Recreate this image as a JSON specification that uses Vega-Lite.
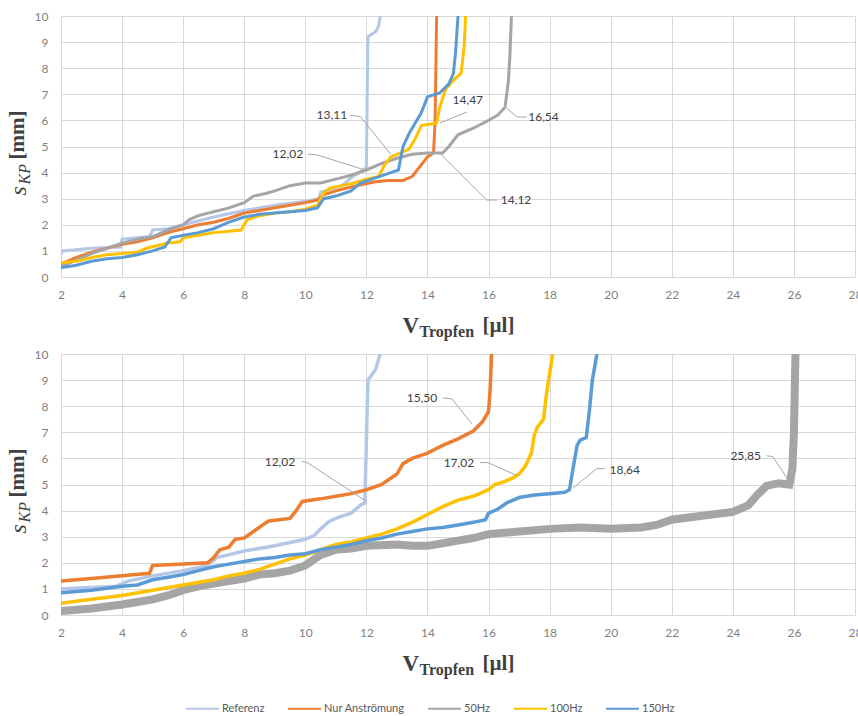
{
  "$schema": "https://vega.github.io/schema/vega-lite/v6.json",
  "background": "white",
  "padding": {"left": 6, "top": 10, "right": 0, "bottom": 0},
  "config": {"view": {"stroke": null}, "font": "Lato", "text": {"font": "Lato"}},
  "spacing": 9,
  "datasets": {
    "top": [
      {"series":"Referenz","v":2,"s":0.85},{"series":"Referenz","v":2.05,"s":1.0},{"series":"Referenz","v":3,"s":1.1},{"series":"Referenz","v":3.95,"s":1.15},{"series":"Referenz","v":4.0,"s":1.45},{"series":"Referenz","v":4.9,"s":1.55},{"series":"Referenz","v":5.0,"s":1.8},{"series":"Referenz","v":5.5,"s":1.85},{"series":"Referenz","v":6,"s":2.0},{"series":"Referenz","v":7,"s":2.3},{"series":"Referenz","v":8,"s":2.55},{"series":"Referenz","v":9,"s":2.75},{"series":"Referenz","v":10,"s":2.9},{"series":"Referenz","v":10.45,"s":3.0},{"series":"Referenz","v":10.5,"s":3.25},{"series":"Referenz","v":10.8,"s":3.35},{"series":"Referenz","v":11.2,"s":3.5},{"series":"Referenz","v":11.5,"s":3.8},{"series":"Referenz","v":11.9,"s":4.1},{"series":"Referenz","v":12.0,"s":4.2},{"series":"Referenz","v":12.05,"s":9.2},{"series":"Referenz","v":12.3,"s":9.4},{"series":"Referenz","v":12.4,"s":9.6},{"series":"Referenz","v":12.45,"s":10},
      {"series":"Nur Anströmung","v":2,"s":0.5},{"series":"Nur Anströmung","v":2.5,"s":0.75},{"series":"Nur Anströmung","v":3,"s":0.95},{"series":"Nur Anströmung","v":3.5,"s":1.1},{"series":"Nur Anströmung","v":4,"s":1.25},{"series":"Nur Anströmung","v":4.5,"s":1.35},{"series":"Nur Anströmung","v":5,"s":1.5},{"series":"Nur Anströmung","v":5.5,"s":1.7},{"series":"Nur Anströmung","v":6,"s":1.85},{"series":"Nur Anströmung","v":6.5,"s":2.0},{"series":"Nur Anströmung","v":7,"s":2.1},{"series":"Nur Anströmung","v":7.5,"s":2.25},{"series":"Nur Anströmung","v":8,"s":2.45},{"series":"Nur Anströmung","v":8.5,"s":2.55},{"series":"Nur Anströmung","v":9,"s":2.65},{"series":"Nur Anströmung","v":9.5,"s":2.75},{"series":"Nur Anströmung","v":10,"s":2.85},{"series":"Nur Anströmung","v":10.4,"s":2.95},{"series":"Nur Anströmung","v":10.6,"s":3.15},{"series":"Nur Anströmung","v":11,"s":3.3},{"series":"Nur Anströmung","v":11.5,"s":3.45},{"series":"Nur Anströmung","v":11.9,"s":3.55},{"series":"Nur Anströmung","v":12.3,"s":3.65},{"series":"Nur Anströmung","v":12.7,"s":3.7},{"series":"Nur Anströmung","v":13.2,"s":3.7},{"series":"Nur Anströmung","v":13.5,"s":3.85},{"series":"Nur Anströmung","v":13.8,"s":4.3},{"series":"Nur Anströmung","v":14.0,"s":4.6},{"series":"Nur Anströmung","v":14.2,"s":4.75},{"series":"Nur Anströmung","v":14.25,"s":6.0},{"series":"Nur Anströmung","v":14.3,"s":10},
      {"series":"50Hz","v":2,"s":0.4},{"series":"50Hz","v":2.5,"s":0.65},{"series":"50Hz","v":3,"s":0.9},{"series":"50Hz","v":3.5,"s":1.1},{"series":"50Hz","v":4,"s":1.3},{"series":"50Hz","v":4.5,"s":1.45},{"series":"50Hz","v":5,"s":1.55},{"series":"50Hz","v":5.5,"s":1.8},{"series":"50Hz","v":6,"s":2.0},{"series":"50Hz","v":6.2,"s":2.2},{"series":"50Hz","v":6.5,"s":2.35},{"series":"50Hz","v":7,"s":2.5},{"series":"50Hz","v":7.5,"s":2.65},{"series":"50Hz","v":8,"s":2.85},{"series":"50Hz","v":8.3,"s":3.1},{"series":"50Hz","v":8.7,"s":3.2},{"series":"50Hz","v":9,"s":3.3},{"series":"50Hz","v":9.5,"s":3.5},{"series":"50Hz","v":10,"s":3.6},{"series":"50Hz","v":10.5,"s":3.6},{"series":"50Hz","v":11,"s":3.75},{"series":"50Hz","v":11.5,"s":3.9},{"series":"50Hz","v":12,"s":4.1},{"series":"50Hz","v":12.5,"s":4.35},{"series":"50Hz","v":13,"s":4.55},{"series":"50Hz","v":13.5,"s":4.7},{"series":"50Hz","v":14,"s":4.75},{"series":"50Hz","v":14.5,"s":4.75},{"series":"50Hz","v":14.7,"s":5.0},{"series":"50Hz","v":15,"s":5.45},{"series":"50Hz","v":15.5,"s":5.7},{"series":"50Hz","v":16,"s":6.0},{"series":"50Hz","v":16.3,"s":6.2},{"series":"50Hz","v":16.54,"s":6.5},{"series":"50Hz","v":16.65,"s":7.5},{"series":"50Hz","v":16.7,"s":8.5},{"series":"50Hz","v":16.75,"s":10},
      {"series":"100Hz","v":2,"s":0.55},{"series":"100Hz","v":2.5,"s":0.6},{"series":"100Hz","v":3,"s":0.75},{"series":"100Hz","v":3.5,"s":0.85},{"series":"100Hz","v":4,"s":0.9},{"series":"100Hz","v":4.5,"s":0.95},{"series":"100Hz","v":4.8,"s":1.1},{"series":"100Hz","v":5.5,"s":1.3},{"series":"100Hz","v":5.9,"s":1.35},{"series":"100Hz","v":6.0,"s":1.5},{"series":"100Hz","v":6.5,"s":1.6},{"series":"100Hz","v":7,"s":1.7},{"series":"100Hz","v":7.5,"s":1.75},{"series":"100Hz","v":7.9,"s":1.8},{"series":"100Hz","v":8.1,"s":2.2},{"series":"100Hz","v":8.5,"s":2.35},{"series":"100Hz","v":9,"s":2.45},{"series":"100Hz","v":9.5,"s":2.5},{"series":"100Hz","v":10,"s":2.6},{"series":"100Hz","v":10.4,"s":2.75},{"series":"100Hz","v":10.6,"s":3.2},{"series":"100Hz","v":10.8,"s":3.4},{"series":"100Hz","v":11.2,"s":3.5},{"series":"100Hz","v":11.6,"s":3.6},{"series":"100Hz","v":12,"s":3.75},{"series":"100Hz","v":12.4,"s":3.85},{"series":"100Hz","v":12.6,"s":4.3},{"series":"100Hz","v":12.8,"s":4.6},{"series":"100Hz","v":13.1,"s":4.75},{"series":"100Hz","v":13.4,"s":4.9},{"series":"100Hz","v":13.6,"s":5.3},{"series":"100Hz","v":13.8,"s":5.8},{"series":"100Hz","v":14.3,"s":5.9},{"series":"100Hz","v":14.4,"s":6.5},{"series":"100Hz","v":14.6,"s":7.2},{"series":"100Hz","v":14.9,"s":7.6},{"series":"100Hz","v":15.1,"s":7.8},{"series":"100Hz","v":15.2,"s":8.8},{"series":"100Hz","v":15.25,"s":10},
      {"series":"150Hz","v":2,"s":0.35},{"series":"150Hz","v":2.5,"s":0.45},{"series":"150Hz","v":3,"s":0.6},{"series":"150Hz","v":3.5,"s":0.7},{"series":"150Hz","v":4,"s":0.75},{"series":"150Hz","v":4.5,"s":0.85},{"series":"150Hz","v":5,"s":1.0},{"series":"150Hz","v":5.4,"s":1.15},{"series":"150Hz","v":5.6,"s":1.5},{"series":"150Hz","v":6,"s":1.6},{"series":"150Hz","v":6.5,"s":1.7},{"series":"150Hz","v":7,"s":1.85},{"series":"150Hz","v":7.5,"s":2.1},{"series":"150Hz","v":8,"s":2.3},{"series":"150Hz","v":8.5,"s":2.4},{"series":"150Hz","v":9,"s":2.45},{"series":"150Hz","v":9.5,"s":2.5},{"series":"150Hz","v":10,"s":2.55},{"series":"150Hz","v":10.4,"s":2.65},{"series":"150Hz","v":10.6,"s":3.0},{"series":"150Hz","v":11,"s":3.1},{"series":"150Hz","v":11.5,"s":3.3},{"series":"150Hz","v":11.8,"s":3.6},{"series":"150Hz","v":12.3,"s":3.8},{"series":"150Hz","v":12.8,"s":4.0},{"series":"150Hz","v":13.05,"s":4.1},{"series":"150Hz","v":13.2,"s":5.0},{"series":"150Hz","v":13.4,"s":5.5},{"series":"150Hz","v":13.6,"s":5.9},{"series":"150Hz","v":13.8,"s":6.3},{"series":"150Hz","v":14.0,"s":6.9},{"series":"150Hz","v":14.4,"s":7.05},{"series":"150Hz","v":14.7,"s":7.4},{"series":"150Hz","v":14.85,"s":7.8},{"series":"150Hz","v":14.92,"s":8.6},{"series":"150Hz","v":15.0,"s":10}
    ],
    "bottom": [
      {"series":"Referenz","v":2,"s":1.0},{"series":"Referenz","v":3,"s":1.05},{"series":"Referenz","v":3.8,"s":1.1},{"series":"Referenz","v":4.2,"s":1.3},{"series":"Referenz","v":5,"s":1.5},{"series":"Referenz","v":6,"s":1.7},{"series":"Referenz","v":6.8,"s":1.9},{"series":"Referenz","v":7.1,"s":2.2},{"series":"Referenz","v":8,"s":2.45},{"series":"Referenz","v":9,"s":2.65},{"series":"Referenz","v":10,"s":2.9},{"series":"Referenz","v":10.3,"s":3.05},{"series":"Referenz","v":10.5,"s":3.3},{"series":"Referenz","v":10.8,"s":3.6},{"series":"Referenz","v":11.1,"s":3.75},{"series":"Referenz","v":11.5,"s":3.9},{"series":"Referenz","v":11.8,"s":4.2},{"series":"Referenz","v":11.95,"s":4.3},{"series":"Referenz","v":12.05,"s":9.0},{"series":"Referenz","v":12.3,"s":9.4},{"series":"Referenz","v":12.45,"s":10},
      {"series":"Nur Anströmung","v":2,"s":1.3},{"series":"Nur Anströmung","v":3,"s":1.4},{"series":"Nur Anströmung","v":4,"s":1.5},{"series":"Nur Anströmung","v":4.9,"s":1.6},{"series":"Nur Anströmung","v":5.0,"s":1.9},{"series":"Nur Anströmung","v":6,"s":1.95},{"series":"Nur Anströmung","v":6.8,"s":2.0},{"series":"Nur Anströmung","v":7.0,"s":2.2},{"series":"Nur Anströmung","v":7.2,"s":2.5},{"series":"Nur Anströmung","v":7.5,"s":2.6},{"series":"Nur Anströmung","v":7.7,"s":2.9},{"series":"Nur Anströmung","v":8.0,"s":2.95},{"series":"Nur Anströmung","v":8.3,"s":3.2},{"series":"Nur Anströmung","v":8.6,"s":3.45},{"series":"Nur Anströmung","v":8.8,"s":3.6},{"series":"Nur Anströmung","v":9.5,"s":3.7},{"series":"Nur Anströmung","v":9.7,"s":4.0},{"series":"Nur Anströmung","v":9.9,"s":4.35},{"series":"Nur Anströmung","v":10.5,"s":4.45},{"series":"Nur Anströmung","v":11,"s":4.55},{"series":"Nur Anströmung","v":11.5,"s":4.65},{"series":"Nur Anströmung","v":12,"s":4.8},{"series":"Nur Anströmung","v":12.5,"s":5.0},{"series":"Nur Anströmung","v":13,"s":5.4},{"series":"Nur Anströmung","v":13.2,"s":5.8},{"series":"Nur Anströmung","v":13.5,"s":6.0},{"series":"Nur Anströmung","v":14,"s":6.2},{"series":"Nur Anströmung","v":14.5,"s":6.5},{"series":"Nur Anströmung","v":15,"s":6.75},{"series":"Nur Anströmung","v":15.5,"s":7.05},{"series":"Nur Anströmung","v":15.8,"s":7.4},{"series":"Nur Anströmung","v":16.0,"s":7.8},{"series":"Nur Anströmung","v":16.05,"s":8.6},{"series":"Nur Anströmung","v":16.1,"s":10},
      {"series":"50Hz","v":2,"s":0.15},{"series":"50Hz","v":3,"s":0.25},{"series":"50Hz","v":4,"s":0.4},{"series":"50Hz","v":4.5,"s":0.5},{"series":"50Hz","v":5,"s":0.6},{"series":"50Hz","v":5.5,"s":0.75},{"series":"50Hz","v":6,"s":0.95},{"series":"50Hz","v":6.5,"s":1.1},{"series":"50Hz","v":7,"s":1.2},{"series":"50Hz","v":7.5,"s":1.3},{"series":"50Hz","v":8,"s":1.4},{"series":"50Hz","v":8.5,"s":1.55},{"series":"50Hz","v":9,"s":1.6},{"series":"50Hz","v":9.5,"s":1.7},{"series":"50Hz","v":10,"s":1.9},{"series":"50Hz","v":10.5,"s":2.3},{"series":"50Hz","v":11,"s":2.5},{"series":"50Hz","v":11.5,"s":2.55},{"series":"50Hz","v":12,"s":2.65},{"series":"50Hz","v":13,"s":2.7},{"series":"50Hz","v":13.5,"s":2.65},{"series":"50Hz","v":14,"s":2.65},{"series":"50Hz","v":14.5,"s":2.75},{"series":"50Hz","v":15,"s":2.85},{"series":"50Hz","v":15.5,"s":2.95},{"series":"50Hz","v":16,"s":3.1},{"series":"50Hz","v":17,"s":3.2},{"series":"50Hz","v":18,"s":3.3},{"series":"50Hz","v":19,"s":3.35},{"series":"50Hz","v":20,"s":3.3},{"series":"50Hz","v":21,"s":3.35},{"series":"50Hz","v":21.5,"s":3.45},{"series":"50Hz","v":22,"s":3.65},{"series":"50Hz","v":23,"s":3.8},{"series":"50Hz","v":24,"s":3.95},{"series":"50Hz","v":24.5,"s":4.2},{"series":"50Hz","v":24.8,"s":4.6},{"series":"50Hz","v":25.1,"s":4.95},{"series":"50Hz","v":25.5,"s":5.05},{"series":"50Hz","v":25.85,"s":5.0},{"series":"50Hz","v":25.95,"s":5.6},{"series":"50Hz","v":26.0,"s":7.0},{"series":"50Hz","v":26.05,"s":10},
      {"series":"100Hz","v":2,"s":0.45},{"series":"100Hz","v":3,"s":0.6},{"series":"100Hz","v":4,"s":0.75},{"series":"100Hz","v":5,"s":0.95},{"series":"100Hz","v":6,"s":1.15},{"series":"100Hz","v":7,"s":1.35},{"series":"100Hz","v":7.5,"s":1.5},{"series":"100Hz","v":8,"s":1.6},{"series":"100Hz","v":8.5,"s":1.75},{"series":"100Hz","v":9,"s":1.95},{"series":"100Hz","v":9.5,"s":2.15},{"series":"100Hz","v":10,"s":2.3},{"series":"100Hz","v":10.5,"s":2.5},{"series":"100Hz","v":11,"s":2.7},{"series":"100Hz","v":11.5,"s":2.8},{"series":"100Hz","v":12,"s":2.95},{"series":"100Hz","v":12.5,"s":3.1},{"series":"100Hz","v":13,"s":3.3},{"series":"100Hz","v":13.5,"s":3.55},{"series":"100Hz","v":14,"s":3.85},{"series":"100Hz","v":14.5,"s":4.15},{"series":"100Hz","v":15,"s":4.4},{"series":"100Hz","v":15.5,"s":4.55},{"series":"100Hz","v":16,"s":4.8},{"series":"100Hz","v":16.2,"s":5.0},{"series":"100Hz","v":16.5,"s":5.1},{"series":"100Hz","v":16.8,"s":5.25},{"series":"100Hz","v":17.0,"s":5.4},{"series":"100Hz","v":17.2,"s":5.7},{"series":"100Hz","v":17.4,"s":6.2},{"series":"100Hz","v":17.5,"s":6.9},{"series":"100Hz","v":17.6,"s":7.2},{"series":"100Hz","v":17.8,"s":7.5},{"series":"100Hz","v":17.9,"s":8.5},{"series":"100Hz","v":18.1,"s":10},
      {"series":"150Hz","v":2,"s":0.85},{"series":"150Hz","v":3,"s":0.95},{"series":"150Hz","v":4,"s":1.1},{"series":"150Hz","v":4.5,"s":1.15},{"series":"150Hz","v":5,"s":1.35},{"series":"150Hz","v":5.5,"s":1.45},{"series":"150Hz","v":6,"s":1.55},{"series":"150Hz","v":6.5,"s":1.7},{"series":"150Hz","v":7,"s":1.85},{"series":"150Hz","v":7.5,"s":1.95},{"series":"150Hz","v":8,"s":2.05},{"series":"150Hz","v":8.5,"s":2.15},{"series":"150Hz","v":9,"s":2.2},{"series":"150Hz","v":9.5,"s":2.3},{"series":"150Hz","v":10,"s":2.35},{"series":"150Hz","v":10.5,"s":2.5},{"series":"150Hz","v":11,"s":2.6},{"series":"150Hz","v":11.5,"s":2.7},{"series":"150Hz","v":12,"s":2.85},{"series":"150Hz","v":12.5,"s":2.95},{"series":"150Hz","v":13,"s":3.1},{"series":"150Hz","v":13.5,"s":3.2},{"series":"150Hz","v":14,"s":3.3},{"series":"150Hz","v":14.5,"s":3.35},{"series":"150Hz","v":15,"s":3.45},{"series":"150Hz","v":15.5,"s":3.55},{"series":"150Hz","v":15.9,"s":3.65},{"series":"150Hz","v":16.0,"s":3.9},{"series":"150Hz","v":16.3,"s":4.05},{"series":"150Hz","v":16.6,"s":4.3},{"series":"150Hz","v":17,"s":4.5},{"series":"150Hz","v":17.5,"s":4.6},{"series":"150Hz","v":18,"s":4.65},{"series":"150Hz","v":18.5,"s":4.7},{"series":"150Hz","v":18.65,"s":4.8},{"series":"150Hz","v":18.75,"s":5.5},{"series":"150Hz","v":18.9,"s":6.5},{"series":"150Hz","v":19.0,"s":6.7},{"series":"150Hz","v":19.2,"s":6.8},{"series":"150Hz","v":19.3,"s":7.8},{"series":"150Hz","v":19.4,"s":9.0},{"series":"150Hz","v":19.55,"s":10}
    ],
    "topLabels": [
      {"label":"12,02","v":9.43,"s":4.71},
      {"label":"13,11","v":10.87,"s":6.2},
      {"label":"14,47","v":15.32,"s":6.78},
      {"label":"16,54","v":17.8,"s":6.13},
      {"label":"14,12","v":16.9,"s":2.95}
    ],
    "topLeaders": [
      {"label":"12,02","v":10.08,"s":4.71},{"label":"12,02","v":10.38,"s":4.68},{"label":"12,02","v":11.95,"s":4.1},
      {"label":"13,11","v":11.46,"s":6.2},{"label":"13,11","v":11.8,"s":6.15},{"label":"13,11","v":12.8,"s":4.7},
      {"label":"14,47","v":15.29,"s":6.32},{"label":"14,47","v":14.41,"s":5.9},
      {"label":"16,54","v":17.25,"s":6.13},{"label":"16,54","v":16.93,"s":6.13},{"label":"16,54","v":16.6,"s":6.47},
      {"label":"14,12","v":16.27,"s":2.95},{"label":"14,12","v":15.94,"s":2.95},{"label":"14,12","v":14.4,"s":4.75}
    ],
    "bottomLabels": [
      {"label":"12,02","v":9.17,"s":5.88},
      {"label":"15,50","v":13.82,"s":8.32},
      {"label":"17,02","v":15.03,"s":5.84},
      {"label":"18,64","v":20.46,"s":5.57},
      {"label":"25,85","v":24.42,"s":6.1}
    ],
    "bottomLeaders": [
      {"label":"12,02","v":9.89,"s":5.88},{"label":"12,02","v":10.05,"s":5.85},{"label":"12,02","v":11.95,"s":4.39},
      {"label":"15,50","v":14.5,"s":8.32},{"label":"15,50","v":14.8,"s":8.28},{"label":"15,50","v":15.45,"s":7.33},
      {"label":"17,02","v":15.72,"s":5.84},{"label":"17,02","v":15.98,"s":5.84},{"label":"17,02","v":16.93,"s":5.34},
      {"label":"18,64","v":19.8,"s":5.61},{"label":"18,64","v":19.54,"s":5.61},{"label":"18,64","v":18.76,"s":4.85},
      {"label":"25,85","v":25.11,"s":6.1},{"label":"25,85","v":25.31,"s":6.07},{"label":"25,85","v":25.76,"s":5.27}
    ]
  },
  "vconcat": [
    {
      "width": 794,
      "height": 261,
      "layer": [
        {
          "data": {"name": "top"},
          "mark": {"type": "line", "strokeWidth": 3, "clip": true},
          "encoding": {
            "x": {"field": "v", "type": "quantitative", "scale": {"domain": [2, 28], "nice": false, "zero": false},
              "axis": {"orient": "bottom", "values": [2,4,6,8,10,12,14,16,18,20,22,24,26,28], "grid": true, "gridColor": "#D9D9D9", "domain": false, "ticks": false, "tickSize": 0, "labelFlush": false, "labelPadding": 12, "labelFont": "Lato", "labelFontSize": 12, "labelColor": "#7F7F7F",
                "title": "V", "titleFont": "Liberation Serif", "titleFontWeight": "bold", "titleFontSize": 23, "titleColor": "#404040", "titleX": 341, "titleY": 55, "titleAlign": "left", "titleBaseline": "alphabetic"}},
            "y": {"field": "s", "type": "quantitative", "scale": {"domain": [0, 10], "nice": false},
              "axis": {"orient": "left", "values": [0,1,2,3,4,5,6,7,8,9,10], "grid": true, "gridColor": "#D9D9D9", "domain": false, "ticks": false, "tickSize": 0, "labelPadding": 13, "labelFont": "Lato", "labelFontSize": 12, "labelColor": "#7F7F7F",
                "title": "s", "titleFont": "Liberation Serif", "titleFontStyle": "italic", "titleFontWeight": "normal", "titleFontSize": 24, "titleColor": "#404040", "titleAngle": -90, "titleX": -36, "titleY": 179, "titleAlign": "left", "titleBaseline": "alphabetic"}},
            "color": {"field": "series", "type": "nominal",
              "scale": {"domain": ["Referenz", "Nur Anströmung", "50Hz", "100Hz", "150Hz"], "range": ["#B4C7E7", "#ED7D31", "#A5A5A5", "#FFC000", "#5B9BD5"]},
              "legend": {"orient": "none", "legendX": 124, "legendY": 675, "direction": "horizontal", "title": null, "symbolType": "stroke", "symbolSize": 1089, "symbolStrokeWidth": 2, "labelFont": "Lato", "labelFontSize": 11, "labelColor": "#595959", "labelOffset": 2, "columnPadding": 19}},
            "order": {"value": null}
          }
        },
        {
          "data": {"name": "topLeaders"},
          "mark": {"type": "line", "color": "#A6A6A6", "strokeWidth": 1},
          "encoding": {
            "x": {"field": "v", "type": "quantitative", "scale": {"domain": [2, 28], "nice": false, "zero": false},
              "axis": {"orient": "bottom", "labels": false, "ticks": false, "domain": false, "grid": false,
                "title": "Tropfen", "titleFont": "Liberation Serif", "titleFontWeight": "bold", "titleFontSize": 16, "titleColor": "#404040", "titleX": 358, "titleY": 59, "titleAlign": "left", "titleBaseline": "alphabetic"}},
            "y": {"field": "s", "type": "quantitative", "scale": {"domain": [0, 10], "nice": false},
              "axis": {"orient": "left", "labels": false, "ticks": false, "domain": false, "grid": false,
                "title": "KP", "titleFont": "Liberation Serif", "titleFontStyle": "italic", "titleFontWeight": "normal", "titleFontSize": 16, "titleColor": "#404040", "titleAngle": -90, "titleX": -32, "titleY": 168, "titleAlign": "left", "titleBaseline": "alphabetic"}},
            "detail": {"field": "label"},
            "order": {"value": null}
          }
        },
        {
          "data": {"name": "topLabels"},
          "mark": {"type": "text", "font": "Lato", "fontSize": 12, "color": "#404040"},
          "encoding": {
            "x": {"field": "v", "type": "quantitative", "scale": {"domain": [2, 28], "nice": false, "zero": false},
              "axis": {"orient": "bottom", "labels": false, "ticks": false, "domain": false, "grid": false,
                "title": "[µl]", "titleFont": "Liberation Serif", "titleFontWeight": "bold", "titleFontSize": 21, "titleColor": "#404040", "titleX": 421, "titleY": 54, "titleAlign": "left", "titleBaseline": "alphabetic"}},
            "y": {"field": "s", "type": "quantitative", "scale": {"domain": [0, 10], "nice": false},
              "axis": {"orient": "left", "labels": false, "ticks": false, "domain": false, "grid": false,
                "title": "[mm]", "titleFont": "Liberation Serif", "titleFontWeight": "bold", "titleFontSize": 21, "titleColor": "#404040", "titleAngle": -90, "titleX": -38, "titleY": 143, "titleAlign": "left", "titleBaseline": "alphabetic"}},
            "text": {"field": "label"}
          }
        }
      ],
      "resolve": {"axis": {"x": "independent", "y": "independent"}}
    },
    {
      "width": 794,
      "height": 261,
      "layer": [
        {
          "data": {"name": "bottom"},
          "mark": {"type": "line", "clip": true},
          "encoding": {
            "x": {"field": "v", "type": "quantitative", "scale": {"domain": [2, 28], "nice": false, "zero": false},
              "axis": {"orient": "bottom", "values": [2,4,6,8,10,12,14,16,18,20,22,24,26,28], "grid": true, "gridColor": "#D9D9D9", "domain": false, "ticks": false, "tickSize": 0, "labelFlush": false, "labelPadding": 12, "labelFont": "Lato", "labelFontSize": 12, "labelColor": "#7F7F7F",
                "title": "V", "titleFont": "Liberation Serif", "titleFontWeight": "bold", "titleFontSize": 23, "titleColor": "#404040", "titleX": 341, "titleY": 55, "titleAlign": "left", "titleBaseline": "alphabetic"}},
            "y": {"field": "s", "type": "quantitative", "scale": {"domain": [0, 10], "nice": false},
              "axis": {"orient": "left", "values": [0,1,2,3,4,5,6,7,8,9,10], "grid": true, "gridColor": "#D9D9D9", "domain": false, "ticks": false, "tickSize": 0, "labelPadding": 13, "labelFont": "Lato", "labelFontSize": 12, "labelColor": "#7F7F7F",
                "title": "s", "titleFont": "Liberation Serif", "titleFontStyle": "italic", "titleFontWeight": "normal", "titleFontSize": 24, "titleColor": "#404040", "titleAngle": -90, "titleX": -36, "titleY": 179, "titleAlign": "left", "titleBaseline": "alphabetic"}},
            "color": {"field": "series", "type": "nominal",
              "scale": {"domain": ["Referenz", "Nur Anströmung", "50Hz", "100Hz", "150Hz"], "range": ["#B4C7E7", "#ED7D31", "#A5A5A5", "#FFC000", "#5B9BD5"]}},
            "strokeWidth": {"condition": {"test": "datum.series === '50Hz'", "value": 8}, "value": 3.5},
            "order": {"value": null}
          }
        },
        {
          "data": {"name": "bottomLeaders"},
          "mark": {"type": "line", "color": "#A6A6A6", "strokeWidth": 1},
          "encoding": {
            "x": {"field": "v", "type": "quantitative", "scale": {"domain": [2, 28], "nice": false, "zero": false},
              "axis": {"orient": "bottom", "labels": false, "ticks": false, "domain": false, "grid": false,
                "title": "Tropfen", "titleFont": "Liberation Serif", "titleFontWeight": "bold", "titleFontSize": 16, "titleColor": "#404040", "titleX": 358, "titleY": 59, "titleAlign": "left", "titleBaseline": "alphabetic"}},
            "y": {"field": "s", "type": "quantitative", "scale": {"domain": [0, 10], "nice": false},
              "axis": {"orient": "left", "labels": false, "ticks": false, "domain": false, "grid": false,
                "title": "KP", "titleFont": "Liberation Serif", "titleFontStyle": "italic", "titleFontWeight": "normal", "titleFontSize": 16, "titleColor": "#404040", "titleAngle": -90, "titleX": -32, "titleY": 168, "titleAlign": "left", "titleBaseline": "alphabetic"}},
            "detail": {"field": "label"},
            "order": {"value": null}
          }
        },
        {
          "data": {"name": "bottomLabels"},
          "mark": {"type": "text", "font": "Lato", "fontSize": 12, "color": "#404040"},
          "encoding": {
            "x": {"field": "v", "type": "quantitative", "scale": {"domain": [2, 28], "nice": false, "zero": false},
              "axis": {"orient": "bottom", "labels": false, "ticks": false, "domain": false, "grid": false,
                "title": "[µl]", "titleFont": "Liberation Serif", "titleFontWeight": "bold", "titleFontSize": 21, "titleColor": "#404040", "titleX": 421, "titleY": 54, "titleAlign": "left", "titleBaseline": "alphabetic"}},
            "y": {"field": "s", "type": "quantitative", "scale": {"domain": [0, 10], "nice": false},
              "axis": {"orient": "left", "labels": false, "ticks": false, "domain": false, "grid": false,
                "title": "[mm]", "titleFont": "Liberation Serif", "titleFontWeight": "bold", "titleFontSize": 21, "titleColor": "#404040", "titleAngle": -90, "titleX": -38, "titleY": 143, "titleAlign": "left", "titleBaseline": "alphabetic"}},
            "text": {"field": "label"}
          }
        }
      ],
      "resolve": {"axis": {"x": "independent", "y": "independent"}}
    }
  ]
}
